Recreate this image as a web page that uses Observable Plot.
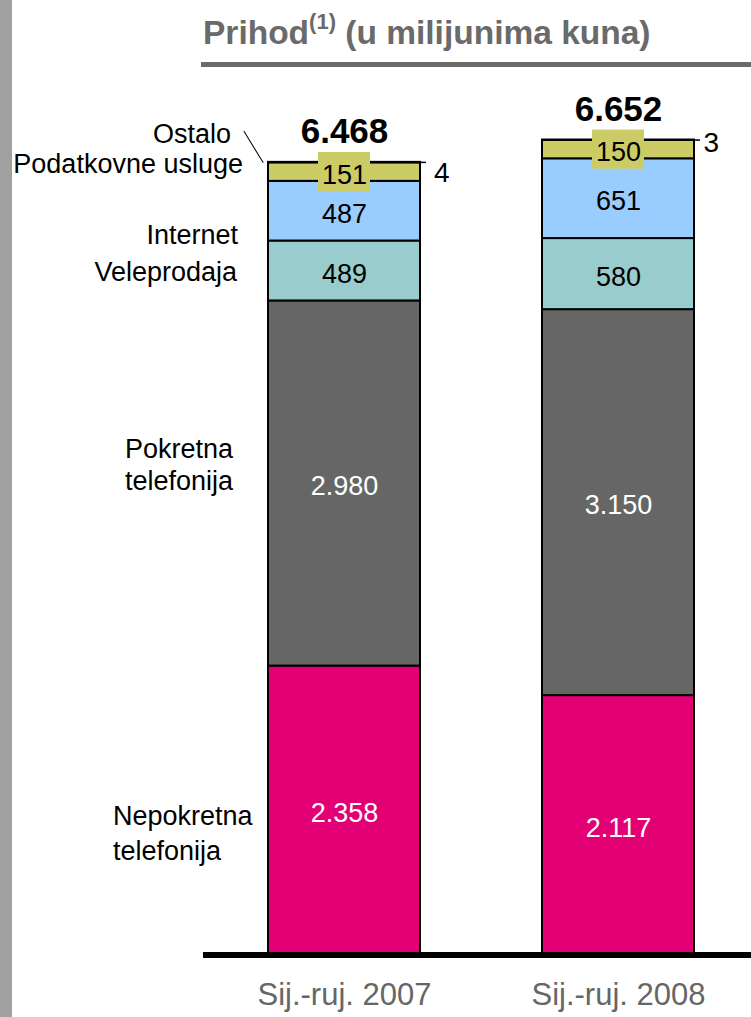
<!DOCTYPE html>
<html>
<head>
<meta charset="utf-8">
<script src="https://cdn.jsdelivr.net/npm/d3@7"></script>
<script src="https://cdn.jsdelivr.net/npm/@observablehq/plot@0.6"></script>
<style>
  body { margin: 0; background: #fff; }
  #wrap { position: relative; width: 751px; height: 1017px; overflow: hidden; background: #fff; font-family: "Liberation Sans", Arial, sans-serif; }
  #strip { position: absolute; left: 0; top: 0; width: 12px; height: 1017px; background: #a0a0a0; }
  #title { position: absolute; left: 203px; top: 16px; font-size: 33.5px; line-height: 34px; font-weight: bold; color: #6a6a6a; white-space: nowrap; }
  #title sup { font-size: 22px; vertical-align: baseline; position: relative; top: -15px; }
  #rule { position: absolute; left: 201px; top: 62px; width: 550px; height: 5px; background: #6a6a6a; }
  #chart { position: absolute; left: 0; top: 70px; }
</style>
</head>
<body>
<div id="wrap">
  <div id="chart"></div>
  <div id="title">Prihod<sup>(1)</sup> (u milijunima kuna)</div>
  <div id="rule"></div>
  <div id="strip"></div>
</div>
<script>
const periods = ["Sij.-ruj. 2007", "Sij.-ruj. 2008"];
const seriesNames = ["Nepokretna telefonija", "Pokretna telefonija", "Veleprodaja", "Internet", "Podatkovne usluge", "Ostalo"];
const revenue2007 = [2358, 2980, 489, 487, 151, 4];
const revenue2008 = [2117, 3150, 580, 651, 150, 3];
const totals = [6468, 6652];
const seriesColors = ["#e20074", "#666666", "#99cccc", "#99ccff", "#cccc66", "#000000"];
const valueColors = ["#ffffff", "#ffffff", "#000000", "#000000", "#000000", "#000000"];

const fmt = d3.formatLocale({decimal: ",", thousands: ".", grouping: [3], currency: ["", ""]}).format(",d");

const rows = [];
[revenue2007, revenue2008].forEach((vals, pi) => {
  let acc = 0;
  vals.forEach((v, si) => {
    rows.push({period: periods[pi], series: seriesNames[si], value: v, y1: acc, y2: acc + v, mid: acc + v / 2, color: seriesColors[si], textColor: valueColors[si]});
    acc += v;
  });
});
const totalRows = periods.map((p, i) => ({period: p, total: totals[i]}));
const rows07 = rows.filter(d => d.period === periods[0]);
const rows08 = rows.filter(d => d.period === periods[1]);
const bySeries = (name, data = rows07) => data.filter(d => d.series === name);

function leftLabel(name, opts) {
  return Plot.text(bySeries(name), {
    x: "period", y: "mid",
    text: d => (d.series.endsWith("telefonija") ? d.series.replace(" ", "\n") : d.series),
    fontSize: 27, fill: "black", lineAnchor: "middle", lineHeight: 1.2, ...opts
  });
}

const leader = {draw(context, l) { context.moveTo(0, 0); context.lineTo(0, -l); }};

const chart = Plot.plot({
  width: 751,
  height: 947,
  marginLeft: 203,
  marginRight: 0,
  marginTop: 26.8,
  marginBottom: 62.5,
  style: {fontFamily: "Liberation Sans, Arial, sans-serif", fontSize: "27px", background: "transparent", overflow: "visible"},
  x: {domain: periods, paddingInner: 0.444, paddingOuter: 0.2184, align: 0.533, label: null},
  y: {domain: [0, 7000], axis: null},
  color: {type: "identity"},
  marks: [
    Plot.barY(rows, {x: "period", y1: "y1", y2: "y2", fill: d => d.color, stroke: "black", strokeWidth: 2}),
    Plot.barY(bySeries("Podatkovne usluge", rows), {x: "period", y1: d => d.mid - 160, y2: d => d.mid + 160, fill: "#cccc66", insetLeft: 50, insetRight: 50}),
    Plot.text(rows.filter(d => d.series !== "Ostalo"), {x: "period", y: "mid", text: d => fmt(d.value), fill: d => d.textColor, fontSize: 27, lineAnchor: "middle", dy: 3}),
    Plot.tickY(bySeries("Ostalo", rows), {x: "period", y: "y2", stroke: "black", strokeWidth: 1.5, insetLeft: 140, dx: 6}),
    Plot.text(bySeries("Ostalo", rows07), {x: "period", y: "y2", text: d => fmt(d.value), fontSize: 28, textAnchor: "start", lineAnchor: "middle", dx: 89.5, dy: 11}),
    Plot.text(bySeries("Ostalo", rows08), {x: "period", y: "y2", text: d => fmt(d.value), fontSize: 28, textAnchor: "start", lineAnchor: "middle", dx: 85, dy: 3}),
    Plot.text(totalRows, {x: "period", y: "total", text: d => fmt(d.total), fontSize: 35, fontWeight: "bold", lineAnchor: "bottom", dy: -19, fill: "black"}),
    leftLabel("Ostalo", {textAnchor: "end", dx: -113.5, dy: -30}),
    leftLabel("Podatkovne usluge", {textAnchor: "end", dx: -101.5, dy: -9}),
    leftLabel("Internet", {textAnchor: "end", dx: -106.5, dy: 22}),
    leftLabel("Veleprodaja", {textAnchor: "end", dx: -107.5, dy: 0}),
    leftLabel("Pokretna telefonija", {textAnchor: "start", dx: -219.5, dy: -20}),
    leftLabel("Nepokretna telefonija", {textAnchor: "start", dx: -231.5, dy: 21, lineHeight: 1.3}),
    Plot.vector(bySeries("Ostalo"), {x: "period", y: "y2", length: 36.4, rotate: -31.5, anchor: "start", shape: leader, stroke: "black", strokeWidth: 1, dx: -81.5}),
    Plot.ruleY([0], {stroke: "black", strokeWidth: 6}),
    Plot.axisX({tickSize: 0, tickPadding: 28, fontSize: 31, color: "#666666", label: null})
  ]
});
document.getElementById("chart").appendChild(chart);
</script>
</body>
</html>
